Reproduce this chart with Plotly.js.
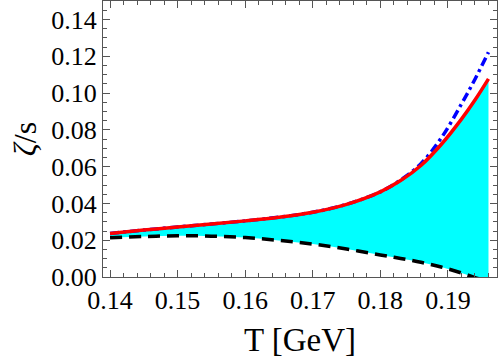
<!DOCTYPE html>
<html>
<head>
<meta charset="utf-8">
<script src="https://cdn.plot.ly/plotly-3.0.1.min.js"></script>
<style>
  html, body { margin: 0; padding: 0; background: #fff; }
  #chart { width: 498px; height: 359px; }
</style>
</head>
<body>
<div id="chart"></div>
<script>
// temperature grid [GeV]
const T = [0.140, 0.145, 0.150, 0.155, 0.160, 0.165, 0.170, 0.175, 0.180, 0.183, 0.186, 0.189, 0.192, 0.194, 0.196];
// upper bound (red, solid)
const zetaUpper = [0.0237, 0.0255, 0.0272, 0.0288, 0.0305, 0.0325, 0.0352, 0.0395, 0.0463, 0.0524, 0.0606, 0.0720, 0.0858, 0.0962, 0.1077];
// lower bound (black, dashed)
const zetaLower = [0.0213, 0.0220, 0.0224, 0.0222, 0.0214, 0.0199, 0.0179, 0.0152, 0.0120, 0.0101, 0.0080, 0.0054, 0.0022, -0.0003, -0.0025];
// alternative estimate (blue, dash-dot)
const zetaAlt = [0.0237, 0.0255, 0.0272, 0.0288, 0.0305, 0.0325, 0.0352, 0.0395, 0.0463, 0.0527, 0.0616, 0.0755, 0.0940, 0.1075, 0.1222];

const serif = '"Liberation Serif", "DejaVu Serif", serif';
const frame = '#555555';

const data = [
    // band between the two bounds
    {x: T, y: zetaLower, mode: 'lines', line: {width: 0, color: 'rgba(0,0,0,0)', shape: 'spline'}, hoverinfo: 'skip', showlegend: false},
    {x: T, y: zetaUpper, mode: 'lines', fill: 'tonexty', fillcolor: '#00ffff', line: {width: 0, color: 'rgba(0,0,0,0)', shape: 'spline'}, hoverinfo: 'skip', showlegend: false},
    {x: T, y: zetaLower, mode: 'lines', line: {color: '#000000', width: 3.5, dash: '12px,7px', shape: 'spline'}, showlegend: false},
    {x: T, y: zetaAlt, mode: 'lines', line: {color: '#0000ff', width: 3.5, dash: '9px,4px,3px,4px', shape: 'spline'}, showlegend: false},
    {x: T, y: zetaUpper, mode: 'lines', line: {color: '#ff0000', width: 3.5, shape: 'spline'}, showlegend: false}
];

const axisCommon = {
    showline: true, linecolor: frame, linewidth: 1, mirror: 'allticks',
    ticks: 'inside', ticklen: 7, tickcolor: frame, tickwidth: 1,
    showgrid: false, zeroline: false,
    tickfont: {family: serif, size: 26, color: '#000'}
};

const layout = {
    width: 498, height: 359,
    margin: {l: 103, r: 1, t: 1, b: 82},
    paper_bgcolor: '#fff', plot_bgcolor: '#fff',
    showlegend: false,
    xaxis: Object.assign({}, axisCommon, {
        range: [0.13896, 0.19726], dtick: 0.01, tick0: 0.14, tickformat: '.2f',
        minor: {dtick: 0.002, ticks: 'inside', ticklen: 4, tickcolor: frame, showgrid: false},
        title: {text: 'T [GeV]', font: {family: serif, size: 33, color: '#000'}, standoff: 13}
    }),
    yaxis: Object.assign({}, axisCommon, {
        range: [0, 0.15], dtick: 0.02, tick0: 0, tickformat: '.2f',
        minor: {dtick: 0.005, ticks: 'inside', ticklen: 4, tickcolor: frame, showgrid: false},
        title: {text: '<i>ζ</i>/s', font: {family: serif, size: 32, color: '#000'}, standoff: 5}
    })
};

Plotly.newPlot('chart', data, layout, {displayModeBar: false, staticPlot: true});
</script>
</body>
</html>
